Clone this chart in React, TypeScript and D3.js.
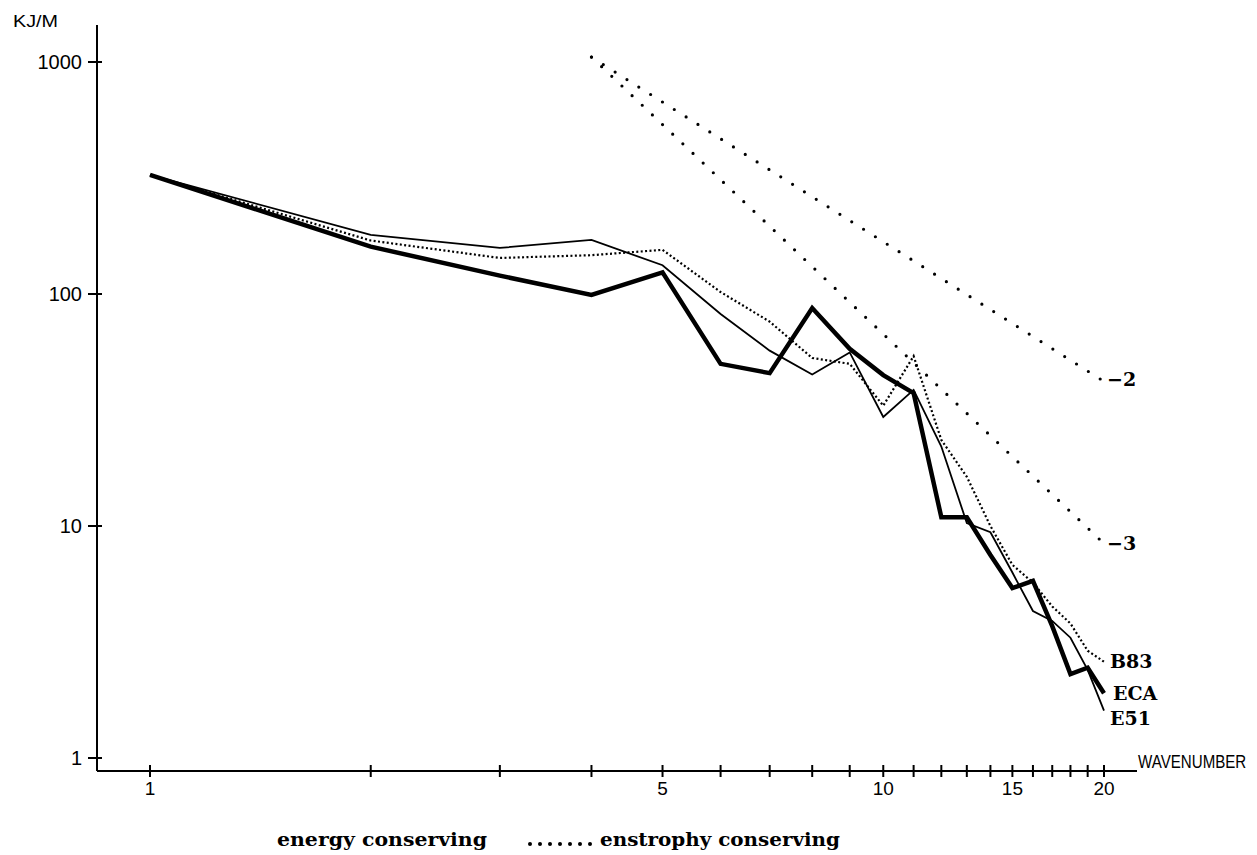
import * as d3 from 'd3';

// wavenumbers 1..20
const waves = d3.range(1, 21);

// kinetic energy spectra, KJ/M
const eca = [326, 160, 120, 99, 124, 50, 45.6, 87, 58, 44.7, 37.4, 10.9, 10.9, 7.5, 5.4, 5.8, 3.7, 2.3, 2.45, 1.9];
const e51 = [326, 180, 158, 171, 133, 82, 57, 45, 56, 29.5, 38.6, 22, 10.3, 9.4, 6.3, 4.3, 3.9, 3.3, 2.4, 1.6];
const b83 = [326, 170, 143, 147, 155, 102, 76, 53, 50, 33, 54, 23.5, 16.3, 10, 6.8, 5.7, 4.5, 3.8, 2.9, 2.6];

// reference slope lines (start / end points)
const slopeMinus2 = [[4, 1050], [20, 42]];
const slopeMinus3 = [[4, 1050], [20, 8.4]];

const xTickLabels = [1, 5, 10, 15, 20];
const yTicks = [1, 10, 100, 1000];

const width = 1257,
  height = 855;

export default function App() {
  const x = d3.scaleLog().domain([1, 20]).range([150, 1104]);
  const y = d3.scaleLog().domain([1, 1000]).range([758, 62]);

  const axisX = 97,
    axisY = 771;

  const line = d3
    .line<[number, number]>()
    .x((d) => x(d[0]))
    .y((d) => y(d[1]));

  const pairs = (vals: number[]) => waves.map((w, i) => [w, vals[i]] as [number, number]);

  const serif = '"DejaVu Serif", "Liberation Serif", serif';
  const sans = '"Liberation Sans", Arial, sans-serif';

  const legendDots = d3.range(7).map((i) => 530 + i * 10);

  return (
    <svg
      width={width}
      height={height}
      viewBox={`0 0 ${width} ${height}`}
      style={{ position: 'absolute', left: 0, top: 0, background: '#fff' }}
    >
      {/* axes */}
      <line x1={axisX} y1={25} x2={axisX} y2={axisY} stroke="#000" strokeWidth={2} />
      <line x1={axisX} y1={axisY} x2={1137} y2={axisY} stroke="#000" strokeWidth={2} />

      {yTicks.map((t) => (
        <g key={t}>
          <line x1={axisX - 9} x2={axisX + 5} y1={y(t)} y2={y(t)} stroke="#000" strokeWidth={2} />
          <text x={82} y={y(t)} dy="0.35em" textAnchor="end" fontFamily={sans} fontSize={20}>
            {t}
          </text>
        </g>
      ))}

      {waves.map((w) => (
        <line
          key={w}
          x1={x(w)}
          x2={x(w)}
          y1={axisY - 6}
          y2={axisY + 6}
          stroke="#000"
          strokeWidth={2}
        />
      ))}
      {xTickLabels.map((w) => (
        <text key={w} x={x(w)} y={795} textAnchor="middle" fontFamily={sans} fontSize={19}>
          {w}
        </text>
      ))}

      <text x={13} y={27} fontFamily={sans} fontSize={17} textLength={45} lengthAdjust="spacingAndGlyphs">
        KJ/M
      </text>
      <text
        transform="translate(1138,768) scale(0.84,1)"
        fontFamily={sans}
        fontSize={18}
      >
        WAVENUMBER
      </text>

      {/* reference slopes */}
      {[slopeMinus2, slopeMinus3].map((s, i) => (
        <path
          key={i}
          d={line(s as [number, number][]) ?? ''}
          fill="none"
          stroke="#000"
          strokeWidth={3.2}
          strokeLinecap="round"
          strokeDasharray="0 14"
        />
      ))}

      {/* spectra */}
      <path d={line(pairs(b83)) ?? ''} fill="none" stroke="#000" strokeWidth={2.2} strokeDasharray="2 2.4" />
      <path d={line(pairs(e51)) ?? ''} fill="none" stroke="#000" strokeWidth={1.8} />
      <path d={line(pairs(eca)) ?? ''} fill="none" stroke="#000" strokeWidth={4.5} />

      {/* end labels */}
      <g fontFamily={serif} fontWeight="bold" fontSize={19}>
        <text x={1107} y={386}>−2</text>
        <text x={1107} y={550}>−3</text>
        <text x={1110} y={668}>B83</text>
        <text x={1113} y={700}>ECA</text>
        <text x={1110} y={725}>E51</text>
      </g>

      {/* legend */}
      <g fontFamily={serif} fontWeight="bold" fontSize={18}>
        <text x={277} y={846} textLength={210} lengthAdjust="spacingAndGlyphs">energy conserving</text>
        <text x={600} y={846} textLength={240} lengthAdjust="spacingAndGlyphs">enstrophy conserving</text>
      </g>
      {legendDots.map((cx) => (
        <circle key={cx} cx={cx} cy={844} r={2} fill="#000" />
      ))}
    </svg>
  );
}
